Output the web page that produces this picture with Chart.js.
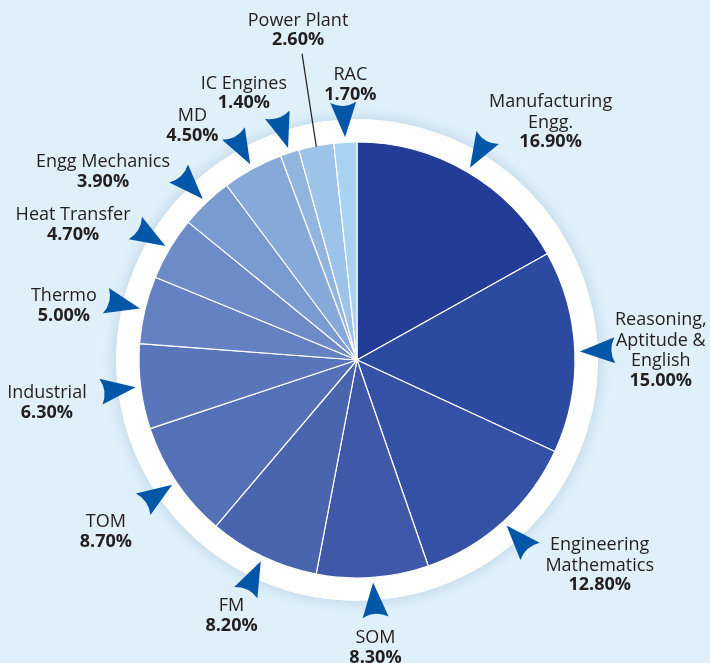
<!DOCTYPE html>
<html>
<head>
<meta charset="utf-8">
<script src="https://cdn.jsdelivr.net/npm/chart.js@4/dist/chart.umd.min.js"></script>
<style>
    html, body { margin: 0; padding: 0; background: #dff0fa; }
    #wrap { width: 710px; height: 663px; position: relative; }
</style>
</head>
<body>
<div id="wrap"><canvas id="myChartPie"></canvas></div>
<script>
// subjects, clockwise from 12 o'clock
var subjects = [
    ['Manufacturing', 'Engg.'],
    ['Reasoning,', 'Aptitude &', 'English'],
    ['Engineering', 'Mathematics'],
    ['SOM'],
    ['FM'],
    ['TOM'],
    ['Industrial'],
    ['Thermo'],
    ['Heat Transfer'],
    ['Engg Mechanics'],
    ['MD'],
    ['IC Engines'],
    ['Power Plant'],
    ['RAC']
];
var shares = [16.9, 15.0, 12.8, 8.3, 8.2, 8.7, 6.3, 5.0, 4.7, 3.9, 4.5, 1.4, 2.6, 1.7];
var sliceColors = ['#233d97', '#2c4aa0', '#3551a5', '#3f59a8', '#4965ae', '#5470b6', '#5a76ba',
    '#6482c2', '#6d8bc7', '#7a9bd0', '#87a9da', '#92b5e0', '#9dc3e8', '#a8d2f0'];
// label offsets from the arrow's outer end
var labelNudge = [[64, -37], [48, -30], [71, -5], [0, 23], [-15, 15], [-39, 19], [-56, 2],
    [-44, -5], [-64, -14], [-77, -13], [-42, -19], [-34, -33], [-11, -88], [7, -29]];
var noArrow = 12; // Power Plant uses a leader line instead

var ringPlugin = {
    id: 'ring',
    beforeDatasetsDraw: function (chart) {
        var arc = chart.getDatasetMeta(0).data[0];
        var ctx = chart.ctx;
        ctx.save();
        ctx.shadowColor = 'rgba(40, 90, 140, 0.22)';
        ctx.shadowBlur = 14;
        ctx.fillStyle = '#ffffff';
        ctx.beginPath();
        ctx.arc(arc.x, arc.y, arc.outerRadius + 23, 0, Math.PI * 2);
        ctx.fill();
        ctx.restore();
    }
};

var calloutPlugin = {
    id: 'callouts',
    afterDatasetsDraw: function (chart) {
        var ctx = chart.ctx;
        var arcs = chart.getDatasetMeta(0).data;
        arcs.forEach(function (arc, i) {
            var mid = (arc.startAngle + arc.endAngle) / 2;
            var ux = Math.cos(mid), uy = Math.sin(mid);
            var px = -uy, py = ux;
            var R = arc.outerRadius;
            var bx = arc.x + (R + 38) * ux, by = arc.y + (R + 38) * uy;

            ctx.save();
            if (i === noArrow) {
                ctx.strokeStyle = '#231f20';
                ctx.lineWidth = 1.2;
                ctx.beginPath();
                ctx.moveTo(arc.x + (R - 1) * ux, arc.y + (R - 1) * uy);
                ctx.lineTo(bx + labelNudge[i][0] + 4, by + labelNudge[i][1] + 33);
                ctx.stroke();
            } else {
                var tip = R + 5, base = R + 40, notch = R + 31, hw = 13;
                ctx.fillStyle = '#0057a8';
                ctx.beginPath();
                ctx.moveTo(arc.x + tip * ux, arc.y + tip * uy);
                ctx.lineTo(arc.x + base * ux + hw * px, arc.y + base * uy + hw * py);
                ctx.quadraticCurveTo(arc.x + (notch + 2) * ux, arc.y + (notch + 2) * uy,
                    arc.x + base * ux - hw * px, arc.y + base * uy - hw * py);
                ctx.closePath();
                ctx.fill();
            }

            // label text
            var lx = bx + labelNudge[i][0], ly = by + labelNudge[i][1];
            var lines = subjects[i];
            ctx.fillStyle = '#231f20';
            ctx.textAlign = 'center';
            ctx.textBaseline = 'middle';
            ctx.font = '18px "Open Sans"';
            lines.forEach(function (t, k) {
                ctx.fillText(t, lx, ly + k * 20.5);
            });
            ctx.font = 'bold 18px "Open Sans"';
            ctx.fillText(shares[i].toFixed(2) + '%', lx, ly + lines.length * 20.5 - 1);
            ctx.restore();
        });
    }
};

var ctx = document.getElementById('myChartPie').getContext('2d');
new Chart(ctx, {
    type: 'pie',
    data: {
        labels: subjects.map(s => s.join(' ')),
        datasets: [{
            data: shares,
            backgroundColor: sliceColors,
            borderColor: '#ffffff',
            borderWidth: 1.2
        }]
    },
    options: {
        responsive: true,
        maintainAspectRatio: false,
        animation: false,
        radius: 218,
        layout: {
            padding: { left: 4, right: 0, top: 142, bottom: 85 }
        },
        plugins: {
            legend: { display: false },
            tooltip: { enabled: false }
        }
    },
    plugins: [ringPlugin, calloutPlugin]
});
</script>
</body>
</html>
